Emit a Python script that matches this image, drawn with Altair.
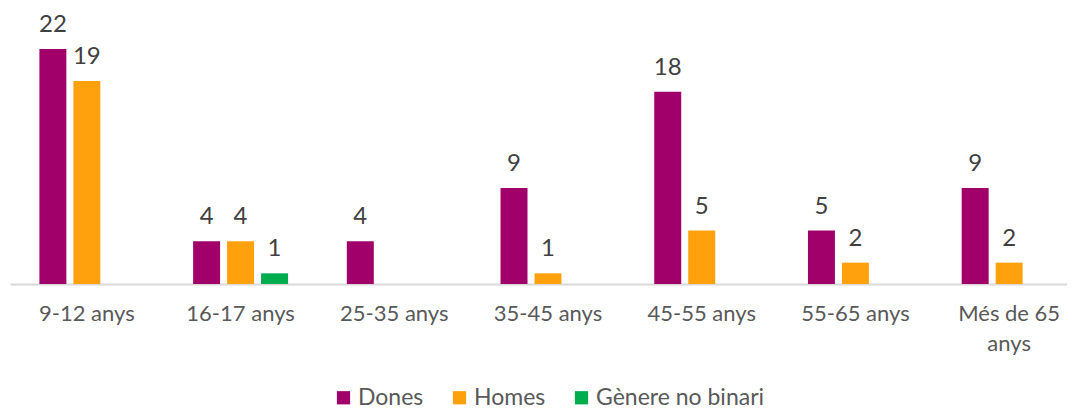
import altair as alt
import pandas as pd

categories = ["9-12 anys", "16-17 anys", "25-35 anys", "35-45 anys",
              "45-55 anys", "55-65 anys", "Més de 65 anys"]
series = ["Dones", "Homes", "Gènere no binari"]
dones = [22, 4, 4, 9, 18, 5, 9]
homes = [19, 4, None, 1, 5, 2, 2]
no_binari = [None, 1, None, None, None, None, None]
colors = ["#A1006B", "#FFA10D", "#00AD4E"]

rows = []
for s, vals in zip(series, [dones, homes, no_binari]):
    for c, v in zip(categories, vals):
        if v is not None:
            rows.append({"cat": c, "series": s, "value": v})
df = pd.DataFrame(rows)

FONT = "Lato"
x_enc = alt.X(
    "cat:N", sort=categories, title=None,
    scale=alt.Scale(domain=categories, paddingInner=0, paddingOuter=0),
    axis=alt.Axis(
        domainColor="#d9d9d9", domainWidth=2, ticks=False, grid=False,
        labelAngle=0, labelFontSize=22, labelColor="#595959", labelFont=FONT,
        labelPadding=19, labelLineHeight=30, labelLimit=300,
        labelExpr="datum.label == 'Més de 65 anys' ? ['Més de 65', 'anys'] : datum.label",
    ),
)
xo_enc = alt.XOffset(
    "series:N",
    scale=alt.Scale(domain=series, paddingInner=0.206, paddingOuter=0.865),
)
y_enc = alt.Y("value:Q", scale=alt.Scale(domain=[0, 25]), axis=None)

base = alt.Chart(df)

bars = base.mark_bar().encode(
    x=x_enc, xOffset=xo_enc, y=y_enc,
    color=alt.Color(
        "series:N",
        scale=alt.Scale(domain=series, range=colors),
        legend=alt.Legend(
            title=None, orient="none", legendX=322, legendY=369,
            direction="horizontal", symbolType="square", symbolSize=175,
            symbolStrokeWidth=0, labelFontSize=23, labelColor="#595959",
            labelFont=FONT, columnPadding=24, labelOffset=3, labelLimit=400,
        ),
    ),
)

labels = base.mark_text(
    dy=-17, baseline="alphabetic", fontSize=24, color="#404040", font=FONT
).encode(x=x_enc, xOffset=xo_enc, y=y_enc, text="value:Q")

chart = (
    alt.layer(bars, labels)
    .properties(width=1076, height=267,
                autosize=alt.AutoSizeParams(type="none"),
                padding={"left": 2, "top": 9, "right": -19, "bottom": 126})
    .configure_view(stroke=None)
)

chart.save("out.html", embed_options={"renderer": "svg", "actions": False})
